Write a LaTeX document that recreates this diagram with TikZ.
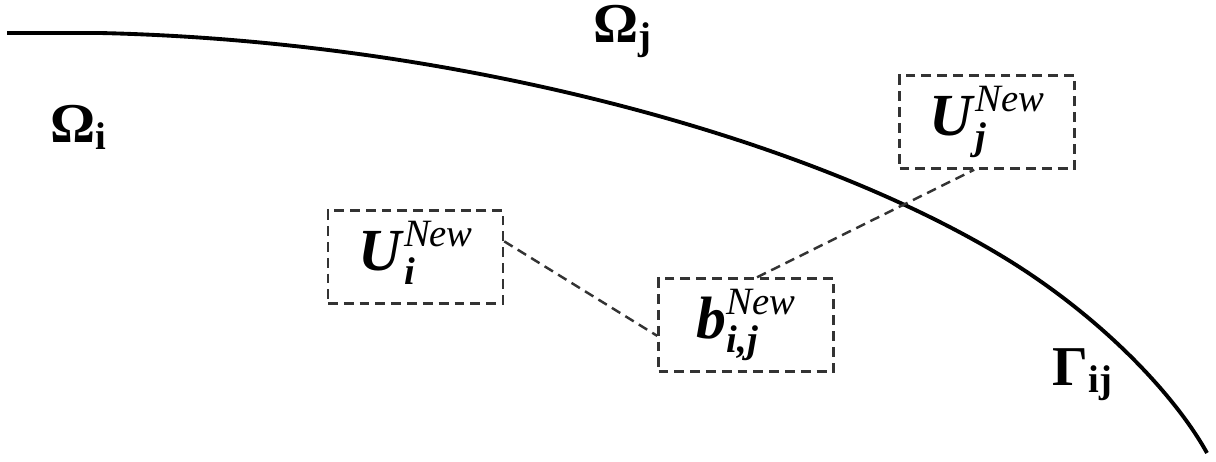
\documentclass[tikz,border=0pt]{standalone}
\usepackage{fontspec}
\setmainfont{Liberation Serif}
\usepackage{tikz}

% base with superscript over subscript, set as text
\newcommand{\newval}[3]{\textbf{\textit{#1}}\raisebox{-4pt}{\fontsize{11}{12}\selectfont\begin{tabular}[b]{@{}l@{}}\itshape #2\\[-1pt]\bfseries\itshape #3\end{tabular}}}
\newcommand{\domlabel}[2]{\textbf{#1}\raisebox{-2pt}{\fontsize{11}{12}\selectfont\bfseries #2}}

\begin{document}
\begin{tikzpicture}[box/.style = {draw=black!80, line width=0.7pt, dash pattern=on 2.8pt off 1.7pt, minimum width=1.75cm, minimum height=0.93cm, inner sep=0pt, font=\fontsize{17}{20}\selectfont},
    dom/.style = {inner sep=0pt, anchor=base west, font=\fontsize{16}{19}\selectfont},
    link/.style = {draw=black!80, line width=0.7pt, dash pattern=on 2.8pt off 1.7pt}]
            \useasboundingbox (0,0) rectangle (12.16,4.61);

            % interface between the two subdomains
            \draw[line width=1.1pt] (0.07,4.28) -- (1.00,4.28)
                .. controls (4.50,4.20) and (8.00,3.26) .. (10.00,2.06)
                .. controls (11.00,1.46) and (11.75,0.66) .. (12.07,0.08);

            \node[dom] (Oi) at (0.50,3.19) {\domlabel{Ω}{i}};
            \node[dom] (Oj) at (5.93,4.19) {\domlabel{Ω}{j}};
            \node[dom] (G) at (10.52,0.76) {\domlabel{Γ}{ij}};

            \node[box] (Ui) at (4.155,2.04) {\newval{U}{New}{i}};
            \node[box] (b) at (7.46,1.36) {\newval{b}{New}{i,j}};
            \node[box] (Uj) at (9.87,3.39) {\newval{U}{New}{j}};

            \path[link] (Ui.10) edge (b.187);
            \path[link] (b.77) edge (Uj.255);
        \end{tikzpicture}
\end{document}
